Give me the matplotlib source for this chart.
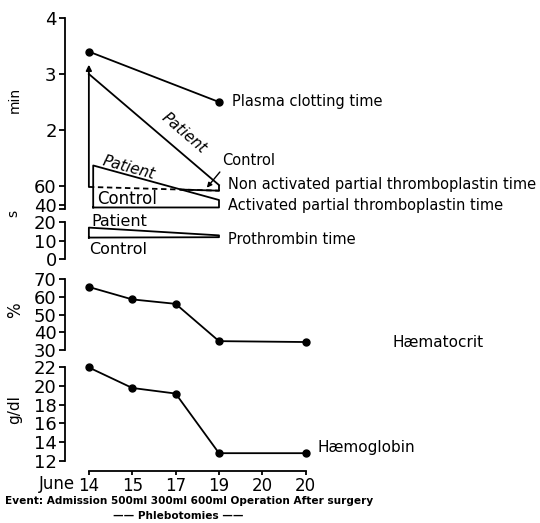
"""凝血时间、红细胞压积与血红蛋白随日期变化"""
import numpy as np
import matplotlib.pyplot as plt

# 日期（横轴等距排列）
days = ['14', '15', '17', '19', '20', '20']
events = 'Event: Admission 500ml 300ml 600ml Operation After surgery'

# 凝血指标，只测了14日和19日
clot_pos = [0, 3]
plasma_clot = [3.4, 2.5]        # min
napt_patient = [180, 61]        # s
napt_control = [59, 55]         # s
napt_arrow_top = 190            # s，箭头表示 >3 min
apt_patient = [82, 45]          # s
apt_control = [37, 37]          # s
pt_patient = [17, 12.8]         # s
pt_control = [11.6, 11.8]       # s

# 红细胞压积、血红蛋白
blood_pos = [0, 1, 2, 3, 5]
haematocrit = [65.5, 58.5, 56, 35, 34.5]
haemoglobin = [22, 19.8, 19.2, 12.8, 12.8]

W, H = 540, 523
plt.rcParams['font.family'] = ['DejaVu Sans']
fig = plt.figure(figsize=(W / 100, H / 100), dpi=100)
LW = 1.3


def add_axes(top, bottom):
    # 按像素位置放置子图
    return fig.add_axes([65 / W, 1 - bottom / H, 475 / W, (bottom - top) / H])


def style(ax, ticks, labels, lo, hi, ylim):
    for s in ['top', 'right', 'bottom']:
        ax.spines[s].set_visible(False)
    ax.spines['left'].set_bounds(lo, hi)
    ax.spines['left'].set_linewidth(LW)
    ax.set_ylim(*ylim)
    ax.set_yticks(ticks, labels)
    ax.tick_params(axis='y', direction='out', length=4, width=LW, pad=2, labelsize=13)
    ax.set_xticks([])
    ax.set_xlim(-0.55, 10.4)
    ax.patch.set_visible(False)


line_kw = dict(color='black', lw=LW, clip_on=False)
dot_kw = dict(color='black', lw=LW, marker='o', ms=5, clip_on=False)

# ---- 分钟轴：血浆凝固时间、部分凝血活酶时间 ----
ax1 = add_axes(18, 214)
style(ax1, [4, 3, 2, 1, 40 / 60], ['4', '3', '2', '60', '40'], 0.59, 4, (0.5, 4.0))
ax1.set_yticks([0.59], minor=True)
ax1.tick_params(axis='y', which='minor', direction='out', length=4, width=LW)

ax1.plot(clot_pos, plasma_clot, **dot_kw)
ax1.text(3.3, plasma_clot[1], 'Plasma clotting time', fontsize=10.5, va='center')

npat = np.array(napt_patient) / 60
nctl = np.array(napt_control) / 60
apat = np.array(apt_patient) / 60
actl = np.array(apt_control) / 60

# 非活化 PTT
ax1.plot([clot_pos[0], clot_pos[1]], [3.0, npat[1]], **line_kw)
ax1.annotate('', xy=(clot_pos[0], napt_arrow_top / 60), xytext=(clot_pos[0], nctl[0]),
             arrowprops=dict(arrowstyle='-|>', color='black', lw=LW, mutation_scale=8,
                             shrinkA=0, shrinkB=0))
ax1.plot(clot_pos, nctl, color='black', lw=LW, ls=(0, (3, 2)))
ax1.vlines(clot_pos[1], nctl[1], npat[1], color='black', lw=LW)

# 活化 PTT 框
x0 = clot_pos[0] + 0.1
ax1.plot([x0, x0, clot_pos[1], clot_pos[1], x0],
         [actl[0], apat[0], apat[1], actl[1], actl[0]], **line_kw)

# 对照线与活化 PTT 患者线的交点之后画实线
k_a = (apat[1] - apat[0]) / (clot_pos[1] - x0)
k_n = (nctl[1] - nctl[0]) / (clot_pos[1] - clot_pos[0])
xc = (nctl[0] - apat[0] + k_a * x0) / (k_a - k_n)
ax1.plot([xc, clot_pos[1]], [nctl[0] + k_n * xc, nctl[1]], **line_kw)

ang_n = np.degrees(np.arctan((3.0 - npat[1]) * 56 / (3 * 43.4)))
ax1.text(2.2, 1.95, 'Patient', fontsize=11, style='italic', rotation=-ang_n,
         ha='center', va='center', rotation_mode='anchor')
ang_a = np.degrees(np.arctan((apat[0] - apat[1]) * 56 / ((clot_pos[1] - x0) * 43.4)))
ax1.text(0.92, 1.33, 'Patient', fontsize=11, style='italic', rotation=-ang_a,
         ha='center', va='center', rotation_mode='anchor')
ax1.text(0.2, 0.76, 'Control', fontsize=12, va='center')

ax1.text(3.07, 1.45, 'Control', fontsize=10.5, va='center')
ax1.annotate('', xy=(2.72, 0.97), xytext=(3.02, 1.25),
             arrowprops=dict(arrowstyle='-|>', color='black', lw=1.0, mutation_scale=7,
                             shrinkA=0, shrinkB=0))
ax1.text(3.2, 1.02, 'Non activated partial thromboplastin time', fontsize=10.5, va='center')
ax1.text(3.2, 0.66, 'Activated partial thromboplastin time', fontsize=10.5, va='center')

# ---- 秒轴：凝血酶原时间 ----
ax2 = add_axes(218, 259)
style(ax2, [20, 10, 0], ['20', '10', '0'], 0, 20, (0, 22.2))
ax2.plot([clot_pos[0], clot_pos[0], clot_pos[1], clot_pos[1], clot_pos[0]],
         [pt_control[0], pt_patient[0], pt_patient[1], pt_control[1], pt_control[0]],
         **line_kw)
ax2.text(0.05, 20.5, 'Patient', fontsize=11.5, va='center')
ax2.text(0.0, 4.9, 'Control', fontsize=11.5, va='center')
ax2.text(3.2, 10.3, 'Prothrombin time', fontsize=10.5, va='center')

# ---- 红细胞压积 ----
ax3 = add_axes(277.2, 351.8)
style(ax3, [70, 60, 50, 40, 30], ['70', '60', '50', '40', '30'], 30, 70, (29, 71))
ax3.plot(blood_pos, haematocrit, **dot_kw)
ax3.text(7.0, 34.3, 'Hæmatocrit', fontsize=11, va='center')

# ---- 血红蛋白 ----
ax4 = add_axes(365.6, 462.5)
hb_ticks = [22, 20, 18, 16, 14, 12]
style(ax4, hb_ticks, [str(t) for t in hb_ticks], 12, 22, (11.8, 22.2))
ax4.plot(blood_pos, haemoglobin, **dot_kw)
ax4.text(5.28, 13.4, 'Hæmoglobin', fontsize=11, va='center')

# ---- 日期轴 ----
ax5 = add_axes(470, 471)
for s in ['top', 'right', 'left']:
    ax5.spines[s].set_visible(False)
ax5.spines['bottom'].set_bounds(0, len(days) - 1)
ax5.spines['bottom'].set_linewidth(LW)
ax5.set_xlim(-0.55, 10.4)
ax5.set_yticks([])
ax5.set_xticks(range(len(days)), days)
ax5.tick_params(axis='x', direction='out', length=3, width=LW, pad=1, labelsize=12)
ax5.patch.set_visible(False)

# 轴标题与底部说明
fig.text(15 / W, 1 - 100 / H, 'min', rotation=90, fontsize=10, ha='center', va='center')
fig.text(13 / W, 1 - 213 / H, 's', rotation=90, fontsize=10, ha='center', va='center')
fig.text(15 / W, 1 - 310 / H, '%', rotation=90, fontsize=12, ha='center', va='center')
fig.text(15 / W, 1 - 410 / H, 'g/dl', rotation=90, fontsize=11, ha='center', va='center')
fig.text(57 / W, 1 - 484 / H, 'June', fontsize=12, ha='center', va='center')
fig.text(5 / W, 1 - 501 / H, events, fontsize=7.6, fontweight='bold', va='center')
fig.text(178 / W, 1 - 516 / H, '—— Phlebotomies ——', fontsize=7.6, fontweight='bold',
         ha='center', va='center')

fig.savefig('out.png', dpi=100)
